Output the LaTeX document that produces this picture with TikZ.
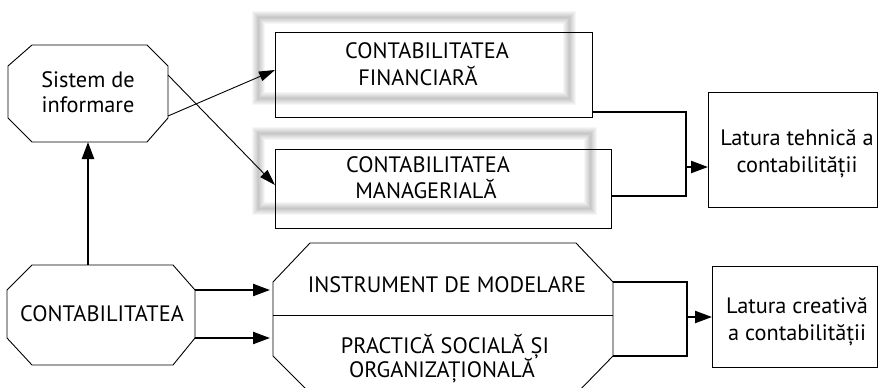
\documentclass[tikz,border=0pt]{standalone}
\usepackage{fontspec}
\setmainfont{PT Sans}
\usetikzlibrary{arrows.meta}
\begin{document}
\begin{tikzpicture}[x=1pt,y=-1pt,
  boxframe/.style={draw, line width=0.9pt, inner sep=0pt},
  octoline/.style={draw, line width=0.9pt, line join=miter},
  txt/.style={font=\fontsize{22.3}{26}\selectfont, anchor=base, inner sep=0pt},
  thinarrow/.style={line width=0.9pt, -{Triangle[length=16pt,width=10pt]}},
  thickline/.style={line width=2.2pt},
  thickarrow/.style={line width=2.2pt, -{Triangle[length=17pt,width=12pt]}},
  blurframe/.style={line width=#1, draw=black, draw opacity=0.035}
]
\useasboundingbox (0,0) rectangle (878,388);
\clip (0,0) rectangle (878,388);

% blurred shadow frames
\foreach \w in {1pt,3pt,5pt,7pt,9pt,11pt,13pt}{
  \draw[blurframe=\w] (258,17) rectangle (569,98);
  \draw[blurframe=\w] (258,133) rectangle (590,208);
}

% boxes
\node[boxframe, minimum width=317pt, minimum height=85pt] (fin) at (433.5,74.5) {};
\node[boxframe, minimum width=336pt, minimum height=79pt] (man) at (443,188.5) {};
\node[boxframe, minimum width=169pt, minimum height=115pt] (tech) at (792.5,149.5) {};
\node[boxframe, minimum width=165pt, minimum height=101pt] (creat) at (794.5,316.5) {};

% octagons
\draw[octoline] (32,45) -- (147,45) -- (168,66) -- (168,118) -- (147,142) -- (32,142) -- (8,118) -- (8,66) -- cycle;
\draw[octoline] (32,265) -- (173,265) -- (195,290) -- (195,338) -- (173,365) -- (32,365) -- (7,338) -- (7,290) -- cycle;
\draw[octoline] (273,282) -- (310,243) -- (576,243) -- (613,282) -- (613,356) -- (577,393) -- (310,393) -- (273,356) -- cycle;
\draw[octoline] (273,315) -- (613,315);

% texts
\node[txt] (sis1) at (88,87) {Sistem de};
\node[txt] (sis2) at (88,112) {informare};
\node[txt] (cont) at (102,321) {CONTABILITATEA};
\node[txt] (fin1) at (427,58) {CONTABILITATEA};
\node[txt] (fin2) at (418,85) {FINANCIARĂ};
\node[txt] (man1) at (428,172) {CONTABILITATEA};
\node[txt] (man2) at (426,198) {MANAGERIALĂ};
\node[txt] (ins) at (447,292) {INSTRUMENT DE MODELARE};
\node[txt] (pra1) at (445,353) {PRACTICĂ SOCIALĂ ȘI};
\node[txt] (pra2) at (442,377) {ORGANIZAȚIONALĂ};
\node[txt] (tech1) at (797,145) {Latura tehnică a};
\node[txt] (tech2) at (797,172) {contabilității};
\node[txt] (cre1) at (797,313) {Latura creativă};
\node[txt] (cre2) at (797,340) {a contabilității};

% connector points
\coordinate (sisne) at (168,75);
\coordinate (sisse) at (168,116);
\coordinate (sisbot) at (88,142);
\coordinate (conttop) at (88,265);
\coordinate (finin) at (275,70);
\coordinate (manin) at (275,185);
\coordinate (contr1) at (195,290);
\coordinate (contr2) at (195,338);
\coordinate (insin) at (270,290);
\coordinate (prain) at (270,338);
\coordinate (finout) at (592,112);
\coordinate (manout) at (611,196);
\coordinate (tj1) at (686,112);
\coordinate (tj2) at (686,196);
\coordinate (tjm) at (686,167);
\coordinate (techin) at (708,167);
\coordinate (oct1) at (613,282);
\coordinate (oct2) at (613,356);
\coordinate (cj1) at (687,282);
\coordinate (cj2) at (687,356);
\coordinate (cjm) at (687,317);
\coordinate (creatin) at (712,317);

% connectors
\draw[thinarrow] (sisne) -- (manin);
\draw[thinarrow] (sisse) -- (finin);
\draw[thickarrow] (conttop) -- (sisbot);
\draw[thickarrow] (contr1) -- (insin);
\draw[thickarrow] (contr2) -- (prain);
\draw[thickline] (finout) -- (tj1) -- (tj2) -- (manout);
\draw[thickarrow] (tjm) -- (techin);
\draw[thickline] (oct1) -- (cj1) -- (cj2) -- (oct2);
\draw[thickarrow] (cjm) -- (creatin);
\end{tikzpicture}
\end{document}
